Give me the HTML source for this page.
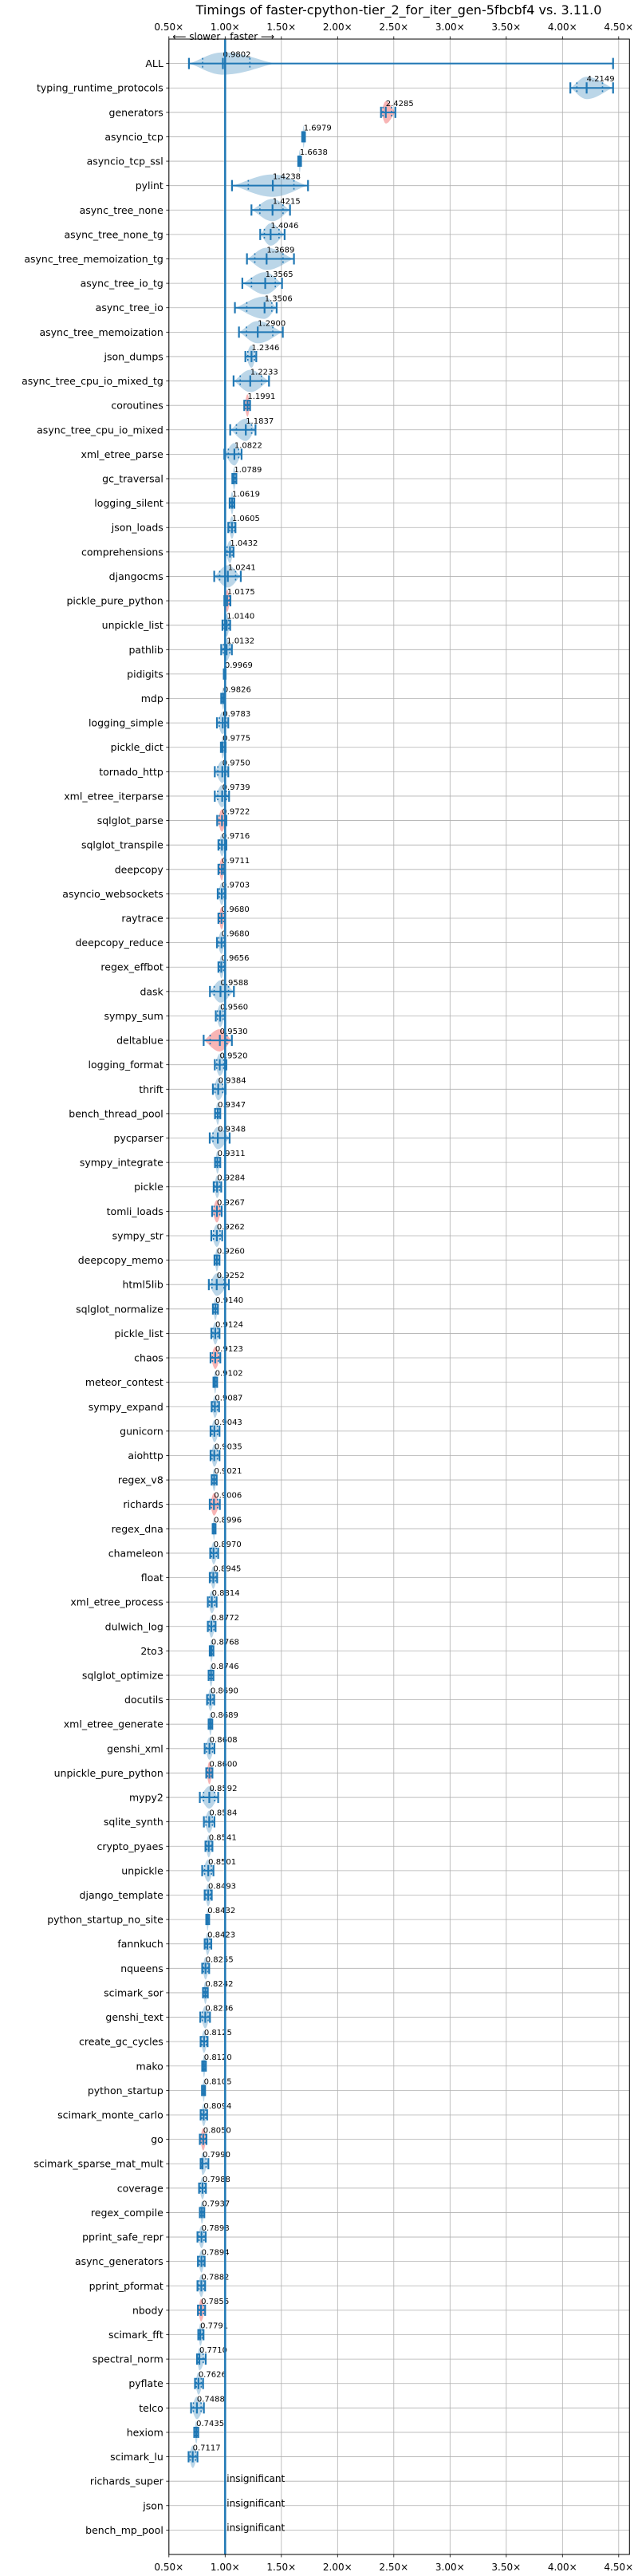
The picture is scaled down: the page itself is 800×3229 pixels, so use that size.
<!DOCTYPE html>
<html><head><meta charset="utf-8"><style>
html,body{margin:0;padding:0;background:#fff}
svg{display:block;font-family:"DejaVu Sans","Liberation Sans",sans-serif}
</style></head><body>
<svg id="chart" width="800" height="3229" viewBox="0 0 800 3229" xmlns="http://www.w3.org/2000/svg">
<text x="500" y="18" font-size="16" text-anchor="middle">Timings of faster-cpython-tier_2_for_iter_gen-5fbcbf4 vs. 3.11.0</text>
<g id="grid"></g>
<g id="marks"></g>
<g id="axes"></g>
</svg>
<script>
const benchmarks = ["ALL","typing_runtime_protocols","generators","asyncio_tcp","asyncio_tcp_ssl","pylint","async_tree_none","async_tree_none_tg","async_tree_memoization_tg","async_tree_io_tg","async_tree_io","async_tree_memoization","json_dumps","async_tree_cpu_io_mixed_tg","coroutines","async_tree_cpu_io_mixed","xml_etree_parse","gc_traversal","logging_silent","json_loads","comprehensions","djangocms","pickle_pure_python","unpickle_list","pathlib","pidigits","mdp","logging_simple","pickle_dict","tornado_http","xml_etree_iterparse","sqlglot_parse","sqlglot_transpile","deepcopy","asyncio_websockets","raytrace","deepcopy_reduce","regex_effbot","dask","sympy_sum","deltablue","logging_format","thrift","bench_thread_pool","pycparser","sympy_integrate","pickle","tomli_loads","sympy_str","deepcopy_memo","html5lib","sqlglot_normalize","pickle_list","chaos","meteor_contest","sympy_expand","gunicorn","aiohttp","regex_v8","richards","regex_dna","chameleon","float","xml_etree_process","dulwich_log","2to3","sqlglot_optimize","docutils","xml_etree_generate","genshi_xml","unpickle_pure_python","mypy2","sqlite_synth","crypto_pyaes","unpickle","django_template","python_startup_no_site","fannkuch","nqueens","scimark_sor","genshi_text","create_gc_cycles","mako","python_startup","scimark_monte_carlo","go","scimark_sparse_mat_mult","coverage","regex_compile","pprint_safe_repr","async_generators","pprint_pformat","nbody","scimark_fft","spectral_norm","pyflate","telco","hexiom","scimark_lu","richards_super","json","bench_mp_pool"];
const medians = [0.9802,4.2149,2.4285,1.6979,1.6638,1.4238,1.4215,1.4046,1.3689,1.3565,1.3506,1.2900,1.2346,1.2233,1.1991,1.1837,1.0822,1.0789,1.0619,1.0605,1.0432,1.0241,1.0175,1.0140,1.0132,0.9969,0.9826,0.9783,0.9775,0.9750,0.9739,0.9722,0.9716,0.9711,0.9703,0.9680,0.9680,0.9656,0.9588,0.9560,0.9530,0.9520,0.9384,0.9347,0.9348,0.9311,0.9284,0.9267,0.9262,0.9260,0.9252,0.9140,0.9124,0.9123,0.9102,0.9087,0.9043,0.9035,0.9021,0.9006,0.8996,0.8970,0.8945,0.8814,0.8772,0.8768,0.8746,0.8690,0.8689,0.8608,0.8600,0.8592,0.8584,0.8541,0.8501,0.8493,0.8432,0.8423,0.8255,0.8242,0.8236,0.8125,0.8120,0.8105,0.8094,0.8050,0.7990,0.7988,0.7937,0.7898,0.7894,0.7882,0.7856,0.7791,0.7710,0.7626,0.7488,0.7435,0.7117,null,null,null];
const mins = [0.678,4.07,2.386,1.685,1.650,1.061,1.234,1.312,1.194,1.153,1.087,1.123,1.180,1.075,1.170,1.045,0.993,1.064,1.040,1.028,1.000,0.903,0.993,0.976,0.965,0.988,0.965,0.927,0.962,0.908,0.908,0.929,0.940,0.940,0.934,0.940,0.927,0.940,0.865,0.917,0.809,0.908,0.891,0.910,0.863,0.910,0.898,0.884,0.877,0.905,0.855,0.891,0.877,0.870,0.896,0.880,0.870,0.870,0.880,0.863,0.889,0.867,0.863,0.846,0.846,0.863,0.853,0.839,0.853,0.818,0.832,0.775,0.811,0.825,0.796,0.818,0.832,0.818,0.796,0.803,0.779,0.782,0.796,0.794,0.782,0.775,0.782,0.768,0.775,0.754,0.758,0.754,0.758,0.761,0.750,0.732,0.697,0.725,0.675,null,null,null];
const maxs = [4.45,4.45,2.514,1.710,1.675,1.737,1.577,1.529,1.612,1.506,1.458,1.513,1.277,1.390,1.222,1.270,1.146,1.100,1.082,1.092,1.075,1.139,1.047,1.045,1.060,1.004,1.000,1.028,1.004,1.028,1.035,1.011,1.011,0.993,1.004,1.000,1.000,1.000,1.078,1.000,1.060,1.011,1.004,0.957,1.040,0.957,0.965,0.969,0.974,0.950,1.033,0.936,0.950,0.957,0.929,0.946,0.950,0.950,0.925,0.953,0.915,0.938,0.929,0.924,0.915,0.896,0.896,0.903,0.886,0.905,0.887,0.938,0.905,0.887,0.896,0.881,0.858,0.877,0.858,0.846,0.865,0.844,0.829,0.822,0.840,0.834,0.851,0.829,0.815,0.827,0.818,0.822,0.822,0.808,0.827,0.804,0.811,0.761,0.754,null,null,null];
const slowerRows = ["generators","coroutines","pickle_pure_python","sqlglot_parse","deepcopy","raytrace","deltablue","tomli_loads","chaos","richards","unpickle_pure_python","go","nbody"];
const xTicks = [0.5,1.0,1.5,2.0,2.5,3.0,3.5,4.0,4.5];
const xTickLabels = ["0.50×","1.00×","1.50×","2.00×","2.50×","3.00×","3.50×","4.00×","4.50×"];

const NS = "http://www.w3.org/2000/svg";
const L = 211.8, R = 789.3, T = 49, B = 3202;
function xs(v){ return 282.3 + (v - 1) * 141; }
function ys(i){ return T + (i + 1) * (B - T) / (benchmarks.length + 1); }
function mk(tag, attrs, parent){ const e = document.createElementNS(NS, tag); for (const k in attrs) e.setAttribute(k, attrs[k]); parent.appendChild(e); return e; }
const grid = document.getElementById('grid'), marks = document.getElementById('marks'), axes = document.getElementById('axes');
const BLUE = "#1f77b4";

xTicks.forEach((t, k) => {
  const gl = mk('line', {x1: xs(t), x2: xs(t), y1: T, y2: B, stroke: '#b0b0b0', 'stroke-width': 0.8}, grid);
  
  
  [[T, T - 3.5, 38], [B, B + 3.5, 3222]].forEach(([a, b, ty]) => {
    const tk = mk('line', {x1: xs(t), x2: xs(t), y1: a, y2: b, stroke: '#000', 'stroke-width': 0.8}, axes);
    
    
    const tl = mk('text', {x: xs(t), y: ty, 'font-size': 12, 'text-anchor': 'middle'}, axes);
    tl.textContent = xTickLabels[k];
    
    
  });
});

benchmarks.forEach((name, i) => {
  const y = ys(i);
  const gl = mk('line', {x1: L, x2: R, y1: y, y2: y, stroke: '#b0b0b0', 'stroke-width': 0.8}, grid);
  
  
  const tk = mk('line', {x1: L - 3.5, x2: L, y1: y, y2: y, stroke: '#000', 'stroke-width': 0.8}, axes);
  
  
  const lab = mk('text', {x: L - 7, y: y + 4.5, 'font-size': 12.5, 'text-anchor': 'end'}, axes);
  lab.textContent = name;
  
  

  const med = medians[i];
  if (med === null) {
    const t = mk('text', {x: xs(1) + 2, y: y + 1, 'font-size': 12}, marks);
    t.textContent = 'insignificant';
    
    
    return;
  }
  const lo = mins[i], hi = maxs[i];
  const g = mk('g', {}, marks);
  
  
  // violin body
  const x0 = xs(lo), x1 = xs(hi), xm = xs(med);
  const vhi = (name === 'ALL') ? Math.min(x1, xs(1.45)) : x1;
  const n = 24, H = 14;
  let top = [], bot = [];
  for (let s = 0; s <= n; s++) {
    const px = x0 + (vhi - x0) * s / n;
    const u = px <= xm ? (px - x0) / Math.max(xm - x0, 0.5) : (vhi - px) / Math.max(vhi - xm, 0.5);
    const h = H * Math.pow(Math.sin(Math.PI / 2 * Math.max(0, Math.min(1, u))), 1.3);
    top.push(px.toFixed(1) + ',' + (y - h).toFixed(1));
    bot.unshift(px.toFixed(1) + ',' + (y + h).toFixed(1));
  }
  const red = slowerRows.includes(name);
  const body = mk('polygon', {points: top.concat(bot).join(' '), fill: red ? 'rgba(240,90,90,0.45)' : 'rgba(31,119,180,0.3)'}, g);
  
  
  // whisker
  const wl = mk('line', {x1: x0, x2: x1, y1: y, y2: y, stroke: BLUE, 'stroke-width': 2}, g);
  
  
  [x0, x1, xm].forEach(px => {
    const c = mk('line', {x1: px, x2: px, y1: y - 7, y2: y + 7, stroke: BLUE, 'stroke-width': 2.2}, g);
    
    
  });
  const q1 = xm - (xm - x0) * 0.6, q3 = xm + (x1 - xm) * 0.6;
  const qa = name === 'ALL' ? [xs(0.80), xs(1.22)] : [q1, q3];
  qa.forEach(px => {
    const q = mk('line', {x1: px, x2: px, y1: y - 7, y2: y + 7, stroke: BLUE, 'stroke-width': 1.6, 'stroke-dasharray': '2,3'}, g);
    
    
  });
  const vt = mk('text', {x: xs(med), y: y - 8, 'font-size': 10}, g);
  vt.textContent = med.toFixed(4);
  
  
});

// 1.0 reference line
const ref = mk('line', {x1: xs(1), x2: xs(1), y1: T, y2: B, stroke: BLUE, 'stroke-width': 2.5}, axes);


const frame = mk('rect', {x: L, y: T, width: R - L, height: B - T, fill: 'none', stroke: '#000', 'stroke-width': 1}, axes);


const sl = mk('text', {x: xs(1) - 6, y: 50, 'font-size': 12, 'text-anchor': 'end'}, axes);
sl.textContent = '⟵ slower';


const fa = mk('text', {x: xs(1) + 6, y: 50, 'font-size': 12}, axes);
fa.textContent = 'faster ⟶';


</script>
</body></html>
